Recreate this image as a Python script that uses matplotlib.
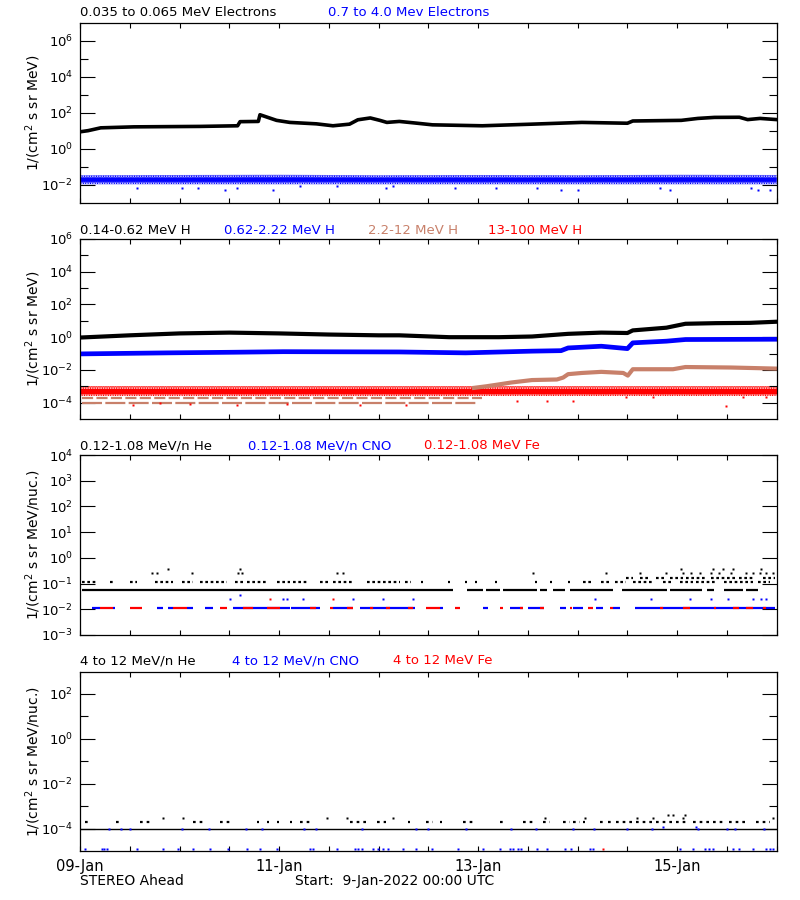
import numpy as np
import matplotlib
matplotlib.use('Agg')
import matplotlib.pyplot as plt
from matplotlib.ticker import FixedLocator, LogFormatterMathtext, NullFormatter

# time axis: hours since 9-Jan-2022 00:00 UTC
BLUE = '#0000ff'
RED = '#ff0000'
TAN = '#c8806a'
plt.rcParams['hatch.linewidth'] = 1.5

# ---------------- panel 1: electrons ----------------
ele_lo_t = [0, 2, 5, 13, 29, 38, 38.6, 43, 43.4, 45, 47.4, 50.6, 57, 61, 65, 67, 70, 72.3, 74,
            77, 81, 85, 97, 109, 121, 132, 133.3, 145, 149, 153, 159, 161, 164, 168]
ele_lo = [9, 10.5, 15, 17, 18, 19.5, 33, 34, 80, 60, 39, 30, 25, 19.5, 24, 42, 53, 39, 30,
          34, 27.5, 22, 19.5, 24, 30, 27, 36, 39, 50, 57, 58, 43, 50, 43]

# 0.7-4.0 MeV electrons: scatter envelope and its dense core
ele_hi_t = [0, 24, 48, 72, 96, 120, 144, 168]
ele_hi_low = [0.011, 0.011, 0.011, 0.011, 0.011, 0.011, 0.011, 0.011]
ele_hi_high = [0.035, 0.036, 0.037, 0.035, 0.036, 0.035, 0.037, 0.036]
ele_hi_core_low = [0.015, 0.015, 0.015, 0.015, 0.015, 0.015, 0.015, 0.015]
ele_hi_core_high = [0.025, 0.025, 0.026, 0.025, 0.025, 0.025, 0.026, 0.025]
ele_hi_out_t = [13.7, 24.7, 28.5, 34.9, 37.8, 46.6, 53.0, 61.9, 73.9, 75.5,
                90.4, 100.4, 110.1, 116.1, 120.1, 139.8, 142.2, 161.9, 163.5, 166.3]
ele_hi_out = [0.0065, 0.0065, 0.0065, 0.005, 0.0065, 0.005, 0.0083, 0.0083, 0.0065, 0.0083,
              0.0065, 0.007, 0.0065, 0.005, 0.005, 0.0065, 0.005, 0.0065, 0.005, 0.005]

# ---------------- panel 2: protons ----------------
h1_t = [0, 12, 24, 36, 48, 60, 72, 77, 89, 101, 109, 117.7, 125.7, 132, 133.3, 141.4, 146, 153.4, 161.5, 168]
h1 = [0.95, 1.3, 1.7, 1.9, 1.7, 1.45, 1.3, 1.3, 1.0, 1.0, 1.1, 1.6, 1.9, 1.8, 2.6, 3.8, 6.6, 7.2, 7.5, 8.8]

h2_t = [0, 21, 37, 49, 77, 93, 109, 116, 117.7, 125.7, 132, 133.3, 141.4, 146, 168]
h2 = [0.095, 0.11, 0.12, 0.13, 0.125, 0.11, 0.14, 0.15, 0.22, 0.28, 0.2, 0.45, 0.57, 0.72, 0.75]

h3_lvl_a = 2e-4   # quantised background levels before the rise
h3_lvl_b = 1e-4
h3_bg_end = [97, 95.6]
h3_t = [95, 98, 101, 104, 109, 115, 116.5, 117.7, 121, 125.7, 131, 132.1, 133.3, 143, 146, 157, 168]
h3 = [8e-4, 1.0e-3, 1.3e-3, 1.7e-3, 2.4e-3, 2.6e-3, 3.4e-3, 5.5e-3, 6.5e-3, 7.6e-3, 6.5e-3,
      4.5e-3, 0.011, 0.011, 0.015, 0.014, 0.012]

h4_t = [0, 24, 48, 72, 96, 120, 144, 168]
h4_low = [2.6e-4, 2.6e-4, 2.6e-4, 2.6e-4, 2.6e-4, 2.6e-4, 2.6e-4, 2.6e-4]
h4_high = [1.0e-3, 1.0e-3, 1.0e-3, 1.0e-3, 1.0e-3, 1.0e-3, 1.0e-3, 1.0e-3]
h4_core_low = [3.5e-4, 3.5e-4, 3.5e-4, 3.5e-4, 3.5e-4, 3.5e-4, 3.5e-4, 3.5e-4]
h4_core_high = [6.5e-4, 6.5e-4, 6.5e-4, 6.5e-4, 6.5e-4, 6.5e-4, 6.5e-4, 6.5e-4]
h4_out_t = [12.9, 19.3, 26.5, 37.8, 49.8, 67.5, 78.7, 105.3, 112.5, 119.0, 131.7, 138.2, 155.8, 159.9, 165.5]
h4_out = [7e-5, 1e-4, 8.7e-5, 7e-5, 8.7e-5, 7e-5, 7e-5, 1.25e-4, 1.25e-4, 1.25e-4, 2.2e-4,
          2.2e-4, 6.2e-5, 2.2e-4, 2.2e-4]

# ---------------- panel 3: 0.12-1.08 MeV/n heavy ions ----------------
he3_lvls = [0.056, 0.12, 0.17]
he3_segs = [
    [(0.4, 89.9), (93.3, 97.1), (98.0, 101.2), (101.9, 110.1), (110.9, 112.5), (114.0, 116.9),
     (118.1, 128.5), (130.6, 141.5), (142.2, 150.1), (151.3, 153.0), (155.4, 159.8), (160.7, 163.4)],
    [(0.4, 4.0), (7.2, 8.4), (12.1, 13.7), (18.1, 22.5), (24.5, 27.3), (28.9, 35.4), (37.4, 39.4),
     (40.2, 45.0), (47.4, 50.6), (51.4, 55.0), (57.8, 60.2), (61.0, 65.9), (69.1, 77.1), (78.3, 79.9),
     (82.3, 82.8), (88.8, 89.3), (92.8, 93.3), (95.2, 95.7), (100.0, 100.5), (109.7, 110.2),
     (113.3, 113.8), (117.7, 118.2), (121.3, 123.7), (125.7, 127.7), (128.9, 131.7), (133.3, 138.2),
     (140.6, 143.0), (144.6, 147.8), (148.6, 153.4), (155.4, 162.3), (163.5, 166.3)],
    [(131.7, 133.3), (135.0, 137.4), (139.0, 141.4), (142.2, 145.4), (146.2, 151.0), (152.2, 158.2),
     (159.0, 162.3), (164.7, 167.5)],
]
he3_dots_t = [17.3, 18.5, 26.9, 38.2, 39.0, 61.9, 63.5, 109.3, 126.9, 135.0, 141.4, 145.4, 147.4,
              149.4, 152.2, 154.2, 157.0, 160.7, 162.3, 164.0, 165.5, 167.1,
              21.3, 38.6, 145.0, 152.6, 155.0, 157.4, 164.3]
he3_dots = [0.26] * 22 + [0.36] * 7

cno3_lvl = 0.0115
cno3_segs = [(2.8, 4.8), (8.0, 8.4), (18.5, 20.1), (21.3, 22.5), (25.7, 27.3), (30.1, 32.1),
             (36.9, 50.6), (51.0, 57.8), (61.0, 65.9), (67.5, 80.7), (86.8, 87.6), (97.2, 98.4),
             (103.6, 106.8), (108.0, 112.0), (115.7, 117.3), (118.9, 121.3), (124.5, 126.1),
             (128.5, 130.1), (133.8, 167.5)]
cno3_up_t = [36.2, 38.6, 49.0, 50.0, 53.8, 65.9, 73.0, 80.3, 124.1, 137.8, 147.0, 152.2, 156.2,
             162.3, 164.3, 165.5]
cno3_up = [0.026, 0.035, 0.026, 0.026, 0.026, 0.026, 0.026, 0.026, 0.026, 0.026, 0.026, 0.026,
           0.026, 0.026, 0.026, 0.026]
fe3_segs = [(4.8, 8.0), (12.1, 14.9), (22.5, 25.7), (33.7, 35.4), (39.4, 41.8), (45.0, 48.2),
            (55.4, 57.0), (60.2, 61.0), (64.3, 65.9), (69.9, 70.7), (73.9, 74.7), (79.1, 80.3),
            (83.5, 86.8), (90.4, 91.6), (101.2, 102.0), (106.0, 106.8), (110.9, 112.0),
            (118.1, 118.6), (122.5, 123.7), (127.9, 128.5), (139.8, 140.6), (145.4, 147.0),
            (153.0, 153.4), (157.4, 159.0), (160.7, 162.3), (164.7, 165.5)]
fe3_up_t = [45.8, 61.0]
fe3_up = [0.026, 0.026]

# ---------------- panel 4: 4-12 MeV/n heavy ions ----------------
he4_base = 1e-4
he4_lvl = 1.9e-4
he4_segs = [(1.2, 2.4), (8.8, 9.3), (14.5, 17.7), (27.3, 30.5), (33.7, 36.2), (42.6, 43.1),
            (45.0, 45.5), (47.4, 47.9), (50.6, 51.1), (53.0, 56.2), (65.1, 69.1), (71.5, 73.9),
            (79.1, 79.6), (83.5, 85.1), (86.8, 87.3), (92.4, 94.8), (101.2, 102.8), (106.8, 109.2),
            (111.7, 113.3), (116.5, 118.1), (118.9, 120.5), (121.3, 121.8), (125.3, 126.1),
            (127.3, 128.5), (129.3, 146.2), (147.8, 151.8), (152.6, 155.0), (156.6, 160.7),
            (163.1, 166.3)]
he4_up_t = [20.1, 24.9, 59.5, 64.3, 75.5, 112.1, 121.7, 134.2, 138.2, 145.4, 167.1, 141.8, 143.0, 145.8]
he4_up = [3e-4] * 11 + [4e-4] * 3

cno4_t = [1.2, 5.2, 5.8, 6.4, 13.7, 20.1, 23.7, 27.3, 31.3, 35.7, 40.2, 43.4, 47.4, 55.4, 56.2,
          61.9, 66.3, 67.1, 67.9, 70.7, 71.9, 73.1, 74.3, 77.9, 81.1, 84.8, 91.2, 97.2, 101.2,
          103.6, 104.5, 105.5, 106.4, 110.1, 112.5, 116.9, 118.5, 122.9, 123.7, 144.6, 147.8,
          150.6, 151.6, 152.6, 157.4, 159.0, 162.3, 165.5, 166.3, 167.1]
cno4 = [1.25e-5] * len(cno4_t)
cno4_mid_t = [7, 10, 12, 24.5, 31, 40, 44, 54, 57, 68, 81, 84, 93, 104, 110, 119, 124, 132,
              138, 149, 156, 158, 165, 140.6, 148.6]
cno4_mid = [1e-4] * 23 + [1.15e-4, 1.15e-4]
fe4_t = [126.1]
fe4 = [1.25e-5]

day_ticks = [0, 48, 96, 144]
day_labels = ['09-Jan', '11-Jan', '13-Jan', '15-Jan']

# ---------------- figure ----------------
fig = plt.figure(figsize=(8, 9), dpi=100)
W, H = 800.0, 900.0


def make_axes(top_px, bot_px):
    return fig.add_axes([80 / W, 1 - bot_px / H, (776.7 - 80) / W, (bot_px - top_px) / H])


def style(ax, ylim, major, minor, bottom=False):
    ax.set_yscale('log')
    ax.set_ylim(*ylim)
    ax.set_xlim(0, 168)
    ax.yaxis.set_major_locator(FixedLocator(major))
    ax.yaxis.set_minor_locator(FixedLocator(minor))
    ax.yaxis.set_major_formatter(LogFormatterMathtext())
    ax.yaxis.set_minor_formatter(NullFormatter())
    ax.set_xticks(np.arange(0, 169, 12))
    if bottom:
        ax.set_xticklabels([day_labels[day_ticks.index(t)] if t in day_ticks else ''
                            for t in range(0, 169, 12)])
    else:
        ax.set_xticklabels([])
    ax.tick_params(axis='x', which='major', direction='in', length=3.6, width=0.8,
                   top=True, bottom=True, labelsize=10.5, pad=6)
    ax.tick_params(axis='y', which='major', direction='in', length=10.8, width=0.8,
                   left=True, right=True, labelsize=9.5, pad=5)
    ax.tick_params(axis='y', which='minor', direction='in', length=5.8, width=0.8,
                   left=True, right=True)
    for s in ax.spines.values():
        s.set_linewidth(0.9)


def seg_lines(ax, lvl, segs, color, lw, ls='-'):
    ax.hlines([lvl] * len(segs), [s[0] for s in segs], [s[1] for s in segs],
              colors=color, linewidth=lw, linestyles=ls)


def scatter_band(ax, t, low, high, core_low, core_high, color):
    ax.fill_between(t, low, high, facecolor='none', edgecolor=color, hatch='.......', linewidth=0)
    ax.fill_between(t, core_low, core_high, facecolor=color, linewidth=0)


def title(y_px, items):
    for x_px, txt, col in items:
        fig.text(x_px / W, 1 - y_px / H, txt, color=col, fontsize=9.5, ha='left', va='center')


# panel 1
ax1 = make_axes(23, 203)
style(ax1, (1e-3, 1e7), [1e-2, 1, 1e2, 1e4, 1e6], [1e-1, 1e1, 1e3, 1e5])
scatter_band(ax1, ele_hi_t, ele_hi_low, ele_hi_high, ele_hi_core_low, ele_hi_core_high, BLUE)
ax1.plot(ele_hi_out_t, ele_hi_out, ls='none', marker='s', ms=1.8, mec='none', color=BLUE)
ax1.plot(ele_lo_t, ele_lo, color='black', linewidth=2.6)
title(13, [(80, '0.035 to 0.065 MeV Electrons', 'black'),
           (328, '0.7 to 4.0 Mev Electrons', BLUE)])

# panel 2
ax2 = make_axes(239, 419)
style(ax2, (1e-5, 1e6), [1e-4, 1e-2, 1, 1e2, 1e4, 1e6], [1e-3, 1e-1, 1e1, 1e3, 1e5])
ax2.plot(h1_t, h1, color='black', linewidth=3.0)
ax2.plot(h2_t, h2, color=BLUE, linewidth=3.4)
ax2.hlines(h3_lvl_a, 0.4, h3_bg_end[0], colors=TAN, linewidth=1.6, linestyles=(0, (5, 1.5)))
ax2.hlines(h3_lvl_b, 0.4, h3_bg_end[1], colors=TAN, linewidth=1.6, linestyles=(0, (9, 1.5)))
ax2.plot(h3_t, h3, color=TAN, linewidth=3.0)
scatter_band(ax2, h4_t, h4_low, h4_high, h4_core_low, h4_core_high, RED)
ax2.plot(h4_out_t, h4_out, ls='none', marker='s', ms=1.8, mec='none', color=RED)
title(230, [(80, '0.14-0.62 MeV H', 'black'), (224, '0.62-2.22 MeV H', BLUE),
            (368, '2.2-12 MeV H', TAN), (488, '13-100 MeV H', RED)])

# panel 3
ax3 = make_axes(455, 635)
style(ax3, (1e-3, 1e4), [1e-3, 1e-2, 1e-1, 1, 1e1, 1e2, 1e3, 1e4], [])
seg_lines(ax3, he3_lvls[0], he3_segs[0], 'black', 1.6)
seg_lines(ax3, he3_lvls[1], he3_segs[1], 'black', 1.6, (0, (1.2, 1.2)))
seg_lines(ax3, he3_lvls[2], he3_segs[2], 'black', 1.6, (0, (1.2, 1.2)))
ax3.plot(he3_dots_t, he3_dots, ls='none', marker='s', ms=1.8, mec='none', color='black')
seg_lines(ax3, cno3_lvl, cno3_segs, BLUE, 1.6)
seg_lines(ax3, cno3_lvl, fe3_segs, RED, 1.6)
ax3.plot(cno3_up_t, cno3_up, ls='none', marker='s', ms=1.8, mec='none', color=BLUE)
ax3.plot(fe3_up_t, fe3_up, ls='none', marker='s', ms=1.8, mec='none', color=RED)
title(445.7, [(80, '0.12-1.08 MeV/n He', 'black'), (248, '0.12-1.08 MeV/n CNO', BLUE),
              (424, '0.12-1.08 MeV Fe', RED)])

# panel 4
ax4 = make_axes(671.5, 851)
style(ax4, (1e-5, 1e3), [1e-4, 1e-2, 1, 1e2], [1e-3, 1e-1, 1e1], bottom=True)
ax4.hlines(he4_base, 0, 168, colors='black', linewidth=1.0)
seg_lines(ax4, he4_lvl, he4_segs, 'black', 1.6, (0, (1.2, 1.8)))
ax4.plot(he4_up_t, he4_up, ls='none', marker='s', ms=1.8, mec='none', color='black')
ax4.plot(cno4_mid_t, cno4_mid, ls='none', marker='s', ms=1.6, mec='none', color=BLUE)
ax4.plot(cno4_t, cno4, ls='none', marker='s', ms=1.8, mec='none', color=BLUE)
ax4.plot(fe4_t, fe4, ls='none', marker='s', ms=1.8, mec='none', color=RED)
title(661, [(80, '4 to 12 MeV/n He', 'black'), (232, '4 to 12 MeV/n CNO', BLUE),
            (393, '4 to 12 MeV Fe', RED)])

# y labels
for ax, lab in [(ax1, '1/(cm$^2$ s sr MeV)'), (ax2, '1/(cm$^2$ s sr MeV)'),
                (ax3, '1/(cm$^2$ s sr MeV/nuc.)'), (ax4, '1/(cm$^2$ s sr MeV/nuc.)')]:
    pos = ax.get_position()
    fig.text(33 / W, pos.y0 + pos.height / 2, lab, rotation=90, fontsize=10,
             ha='center', va='center')

fig.text(80 / W, 1 - 881 / H, 'STEREO Ahead', fontsize=10, ha='left', va='center')
fig.text(295 / W, 1 - 881 / H, 'Start:  9-Jan-2022 00:00 UTC', fontsize=10, ha='left', va='center')

fig.savefig('out.png', dpi=100)
